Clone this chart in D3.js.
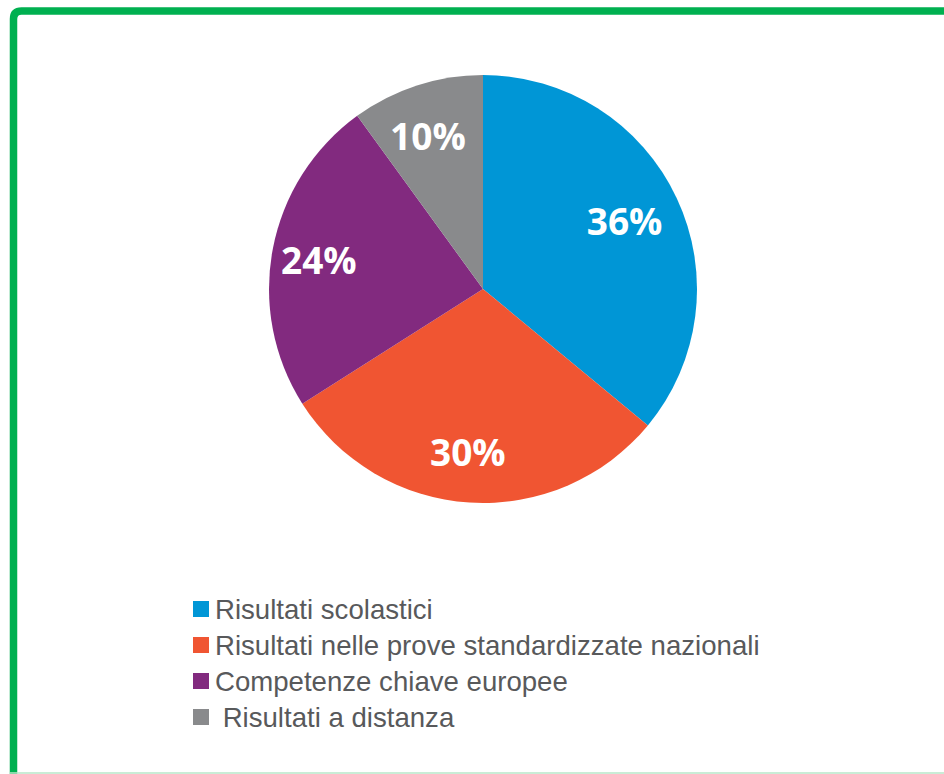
<!DOCTYPE html>
<html>
<head>
<meta charset="utf-8">
<script src="https://cdn.jsdelivr.net/npm/d3@7"></script>
<style>
  html, body { margin: 0; padding: 0; background: #fff; }
  svg { display: block; }
</style>
</head>
<body>
<svg id="pie-chart" width="944" height="774"></svg>
<script>
// data
var categories = ["Risultati scolastici", "Risultati nelle prove standardizzate nazionali", "Competenze chiave europee", "Risultati a distanza"];
var values = [36, 30, 24, 10];
var colors = ["#0096d6", "#f05532", "#822a7f", "#898a8c"];
var legendLabels = ["Risultati scolastici", "Risultati nelle prove standardizzate nazionali", "Competenze chiave europee", " Risultati a distanza"];

var width = 944, height = 774;
var cx = 483, cy = 289, radius = 214;

var svg = d3.select("#pie-chart");

// green frame (right side runs off the picture)
svg.append("path")
    .attr("d", "M 13.5 775 L 13.5 19 Q 13.5 11 21.5 11 L 960 11")
    .attr("fill", "none")
    .attr("stroke", "#00b050")
    .attr("stroke-width", 7.5);
svg.append("line")
    .attr("x1", 10).attr("x2", 944)
    .attr("y1", 773).attr("y2", 773)
    .attr("stroke", "#b8e6c8")
    .attr("stroke-width", 1.5);

var color = d3.scaleOrdinal().domain(categories).range(colors);

var pie = d3.pie()
    .value(function (d, i) { return values[i]; })
    .sort(null);

var arc = d3.arc().innerRadius(0).outerRadius(radius);
var labelArc = d3.arc().innerRadius(162).outerRadius(162);

var arcs = pie(categories);

var g = svg.append("g")
    .attr("transform", "translate(" + cx + "," + cy + ")");

g.selectAll("path.slice")
    .data(arcs)
    .enter().append("path")
    .attr("class", "slice")
    .attr("d", arc)
    .attr("fill", function (d) { return color(d.data); });

// percentage labels, nudged a little to the left like the original
g.selectAll("text.pct")
    .data(arcs)
    .enter().append("text")
    .attr("class", "pct")
    .attr("transform", function (d) {
        var c = labelArc.centroid(d);
        return "translate(" + (c[0] - 5) + "," + (c[1] + 2) + ")";
    })
    .attr("dy", "0.36em")
    .style("text-anchor", "middle")
    .style("font-family", "'Open Sans', sans-serif")
    .style("font-weight", "bold")
    .style("font-size", "37px")
    .style("fill", "#fff")
    .text(function (d) { return d.value + "%"; });

// legend
var legend = svg.selectAll(".legend")
    .data(categories)
    .enter().append("g")
    .attr("class", "legend")
    .attr("transform", function (d, i) { return "translate(193," + (601 + i * 36) + ")"; });

legend.append("rect")
    .attr("width", 16)
    .attr("height", 16)
    .attr("fill", function (d) { return color(d); });

legend.append("text")
    .attr("x", 22)
    .attr("y", 8)
    .attr("dy", "0.36em")
    .style("font-family", "'Liberation Sans', Arial, sans-serif")
    .style("font-size", "27.6px")
    .style("fill", "#58595b")
    .style("white-space", "pre")
    .attr("xml:space", "preserve")
    .text(function (d, i) { return legendLabels[i]; });
</script>
</body>
</html>
